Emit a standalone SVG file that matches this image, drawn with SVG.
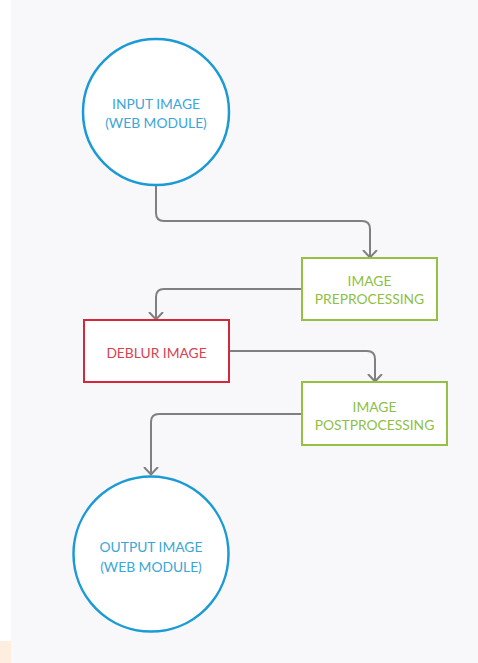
<svg xmlns="http://www.w3.org/2000/svg" width="478" height="663" viewBox="0 0 478 663">
<style>
text{font-family:Lato,"Open Sans","Liberation Sans",sans-serif;font-size:13.8px;text-anchor:middle;dominant-baseline:central}
.blue{fill:#fff;stroke:#1b9ad6;stroke-width:2.5}
.bt{fill:#3aa6d9}
.green{fill:#fff;stroke:#94c143;stroke-width:2}
.gt{fill:#8dbf45}
.red{fill:#fff;stroke:#d32839;stroke-width:2}
.rt{fill:#d9414f}
.conn{fill:none;stroke:#808080;stroke-width:2;marker-end:url(#arr)}
</style>
<defs>
<marker id="arr" markerWidth="16" markerHeight="18" refX="7" refY="8" orient="auto" markerUnits="userSpaceOnUse" viewBox="0 0 16 18">
<path d="M0,1 L7.5,8 L0,15" fill="none" stroke="#808080" stroke-width="2"/>
</marker>
</defs>
<rect x="0" y="0" width="478" height="663" fill="#ffffff"/>
<rect x="11" y="0" width="467" height="663" fill="#f8f8fb"/>
<rect x="0" y="641" width="11" height="22" fill="#fdeee0"/>
<g id="connectors">
<path class="conn" d="M156,186 V213 Q156,221 164,221 H362 Q370,221 370,229 V257"/>
<path class="conn" d="M302,289 H164 Q156,289 156,297 V319"/>
<path class="conn" d="M229,351 H367 Q375,351 375,359 V381"/>
<path class="conn" d="M302,414 H159 Q151,414 151,422 V474"/>
</g>
<g id="input">
<circle class="blue" cx="156" cy="112" r="73"/>
<text class="bt" x="156" y="103">INPUT IMAGE</text>
<text class="bt" x="156" y="122">(WEB MODULE)</text>
</g>
<g id="preprocessing">
<rect class="green" x="302" y="258" width="135" height="62"/>
<text class="gt" x="369.5" y="280">IMAGE</text>
<text class="gt" x="369.5" y="298">PREPROCESSING</text>
</g>
<g id="deblur">
<rect class="red" x="84" y="320" width="145" height="62"/>
<text class="rt" x="156.5" y="352">DEBLUR IMAGE</text>
</g>
<g id="postprocessing">
<rect class="green" x="302" y="382" width="145" height="63"/>
<text class="gt" x="374.5" y="406">IMAGE</text>
<text class="gt" x="374.5" y="424.5">POSTPROCESSING</text>
</g>
<g id="output">
<circle class="blue" cx="151" cy="554" r="77.5"/>
<text class="bt" x="151" y="546">OUTPUT IMAGE</text>
<text class="bt" x="151" y="566">(WEB MODULE)</text>
</g>
</svg>
